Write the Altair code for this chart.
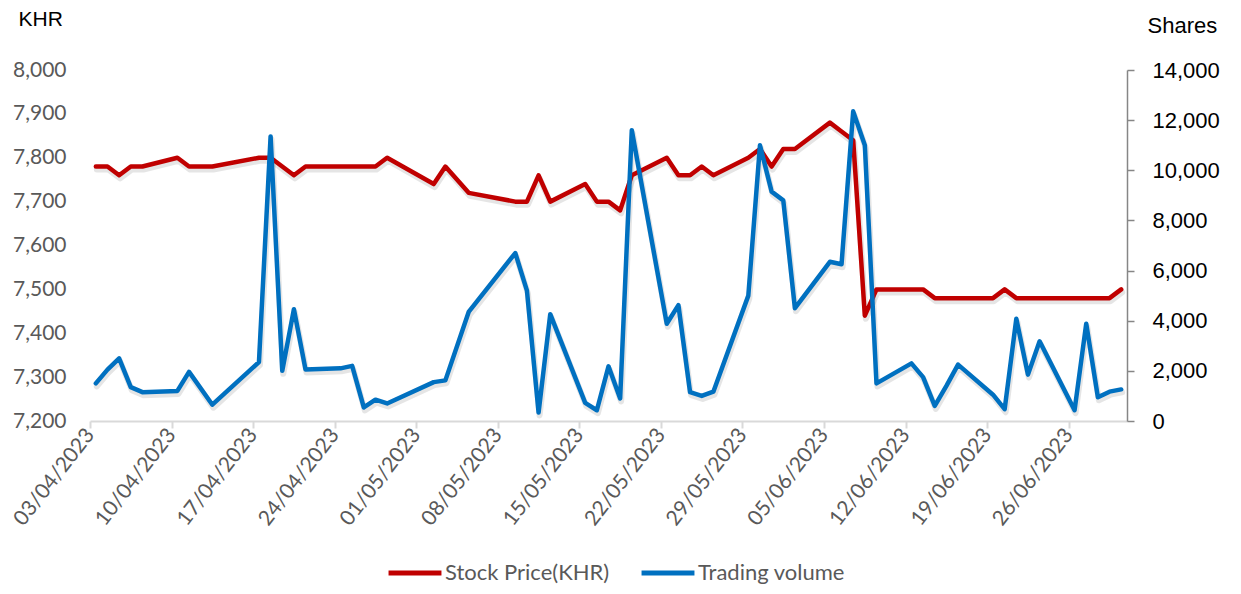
import altair as alt
import pandas as pd

# ---- data ----
dates = [
    "2023-04-03", "2023-04-04", "2023-04-05", "2023-04-06", "2023-04-07",
    "2023-04-10", "2023-04-11", "2023-04-13",
    "2023-04-17", "2023-04-18", "2023-04-19", "2023-04-20", "2023-04-21",
    "2023-04-24", "2023-04-25", "2023-04-26", "2023-04-27", "2023-04-28",
    "2023-05-02", "2023-05-03", "2023-05-05",
    "2023-05-09", "2023-05-10", "2023-05-11", "2023-05-12",
    "2023-05-15", "2023-05-16", "2023-05-17", "2023-05-18", "2023-05-19",
    "2023-05-22", "2023-05-23", "2023-05-24", "2023-05-25", "2023-05-26",
    "2023-05-29", "2023-05-30", "2023-05-31", "2023-06-01", "2023-06-02",
    "2023-06-05", "2023-06-06", "2023-06-07", "2023-06-08", "2023-06-09",
    "2023-06-12", "2023-06-13", "2023-06-14", "2023-06-15", "2023-06-16",
    "2023-06-19", "2023-06-20", "2023-06-21", "2023-06-22", "2023-06-23",
    "2023-06-26", "2023-06-27", "2023-06-28", "2023-06-29", "2023-06-30",
]

stock_price = [
    7780, 7780, 7760, 7780, 7780,
    7800, 7780, 7780,
    7800, 7800, 7780, 7760, 7780,
    7780, 7780, 7780, 7780, 7800,
    7740, 7780, 7720,
    7700, 7700, 7760, 7700,
    7740, 7700, 7700, 7680, 7760,
    7800, 7760, 7760, 7780, 7760,
    7800, 7820, 7780, 7820, 7820,
    7880, 7860, 7840, 7440, 7500,
    7500, 7500, 7480, 7480, 7480,
    7480, 7500, 7480, 7480, 7480,
    7480, 7480, 7480, 7480, 7500,
]

trading_volume = [
    1500, 2050, 2500, 1350, 1150,
    1200, 1960, 650,
    2350, 11350, 2000, 4460, 2050,
    2100, 2200, 540, 850, 700,
    1550, 1620, 4350,
    6700, 5200, 340, 4260,
    720, 430, 2180, 900, 11600,
    3880, 4620, 1150, 1000, 1170,
    5000, 11000, 9150, 8800, 4500,
    6350, 6250, 12350, 11000, 1500,
    2300, 1750, 600, 1400, 2250,
    1050, 470, 4080, 1850, 3180,
    430, 3880, 950, 1170, 1260,
]

series_names = ["Stock Price(KHR)", "Trading volume"]
series_colors = ["#C00000", "#0070C0"]

price_ticks = list(range(7200, 8001, 100))
volume_ticks = list(range(0, 14001, 2000))

# ---- build table ----
n = len(dates)
t = [d + "T12:00:00Z" for d in dates]
long = pd.DataFrame({
    "t": t + t,
    "series": [series_names[0]] * n + [series_names[1]] * n,
    "value": stock_price + trading_volume,
})

start = pd.Timestamp("2023-04-03", tz="UTC")
end = pd.Timestamp("2023-07-01", tz="UTC")
week_ticks = [int((start + pd.Timedelta(days=7 * k)).value // 10**6) for k in range(13)]
x_domain = [int(start.value // 10**6), int(end.value // 10**6)]

x_enc = alt.X(
    "t:T",
    scale=alt.Scale(type="utc", domain=x_domain),
    axis=alt.Axis(
        values=week_ticks, labelExpr="utcFormat(datum.value, '%d/%m/%Y')",
        labelAngle=-52, labelAlign="right", labelBaseline="middle",
        labelFont="Lato", labelFontSize=21, labelColor="#595959",
        labelPadding=3, labelOverlap=False, labelBound=False, labelFlush=False,
        domainColor="#D9D9D9", domainWidth=2,
        tickColor="#D9D9D9", tickSize=7, tickWidth=2, grid=False, title=None,
    ),
)

color_enc = alt.Color(
    "series:N",
    scale=alt.Scale(domain=series_names, range=series_colors),
    legend=alt.Legend(
        title=None, orient="none", legendX=296, legendY=474,
        direction="horizontal", symbolType="stroke", symbolStrokeWidth=5,
        symbolSize=2800, labelFont="Lato", labelFontSize=22,
        labelColor="#595959", columnPadding=21, labelOffset=1, labelLimit=400,
    ),
)

base = alt.Chart(long).encode(x=x_enc)

left_axis = alt.Axis(
    orient="left", values=price_ticks, format=",.0f", domain=False, ticks=False,
    grid=False, labelFont="Lato", labelFontSize=21, labelColor="#595959",
    labelPadding=24, title="KHR", titleAngle=0, titleX=-72, titleY=-51,
    titleAlign="left", titleBaseline="middle", titleFont="Liberation Sans",
    titleFontSize=21, titleFontWeight="normal", titleColor="#000000",
)
right_axis = alt.Axis(
    orient="right", values=volume_ticks, format=",.0f", domain=True,
    domainColor="#868686", domainWidth=1.5, ticks=True, tickColor="#868686",
    tickSize=7, tickWidth=1.5, grid=False, labelFont="Liberation Sans",
    labelFontSize=22, labelColor="#000000", labelPadding=18,
    title="Shares", titleAngle=0, titleX=20, titleY=-45, titleAlign="left",
    titleBaseline="middle", titleFont="Liberation Sans", titleFontSize=22,
    titleFontWeight="normal", titleColor="#000000",
)

price_scale = alt.Scale(domain=[7200, 8000])
volume_scale = alt.Scale(domain=[0, 14000])

price_src = base.transform_filter(alt.datum.series == series_names[0])
volume_src = base.transform_filter(alt.datum.series == series_names[1])

price_shadow = price_src.mark_line(
    color="#000000", opacity=0.10, strokeWidth=6, xOffset=1, yOffset=3,
    strokeJoin="round", strokeCap="round",
).encode(y=alt.Y("value:Q", scale=price_scale, axis=None))
price_line = price_src.mark_line(
    strokeWidth=4.5, strokeJoin="round", strokeCap="round",
).encode(y=alt.Y("value:Q", scale=price_scale, axis=left_axis), color=color_enc)

volume_shadow = volume_src.mark_line(
    color="#000000", opacity=0.10, strokeWidth=6, xOffset=1, yOffset=3,
    strokeJoin="round", strokeCap="round",
).encode(y=alt.Y("value:Q", scale=volume_scale, axis=None))
volume_line = volume_src.mark_line(
    strokeWidth=4.5, strokeJoin="round", strokeCap="round",
).encode(y=alt.Y("value:Q", scale=volume_scale, axis=right_axis), color=color_enc)

chart = (
    alt.layer(price_shadow, volume_shadow, price_line, volume_line)
    .resolve_scale(y="independent")
    .properties(
        width=1037, height=351,
        padding={"left": 82, "top": 62, "right": 106, "bottom": 165},
        autosize=alt.AutoSizeParams(type="none"),
        background="white",
    )
    .configure_view(stroke=None)
)

chart.save("out.html", embed_options={"renderer": "svg", "actions": False})
